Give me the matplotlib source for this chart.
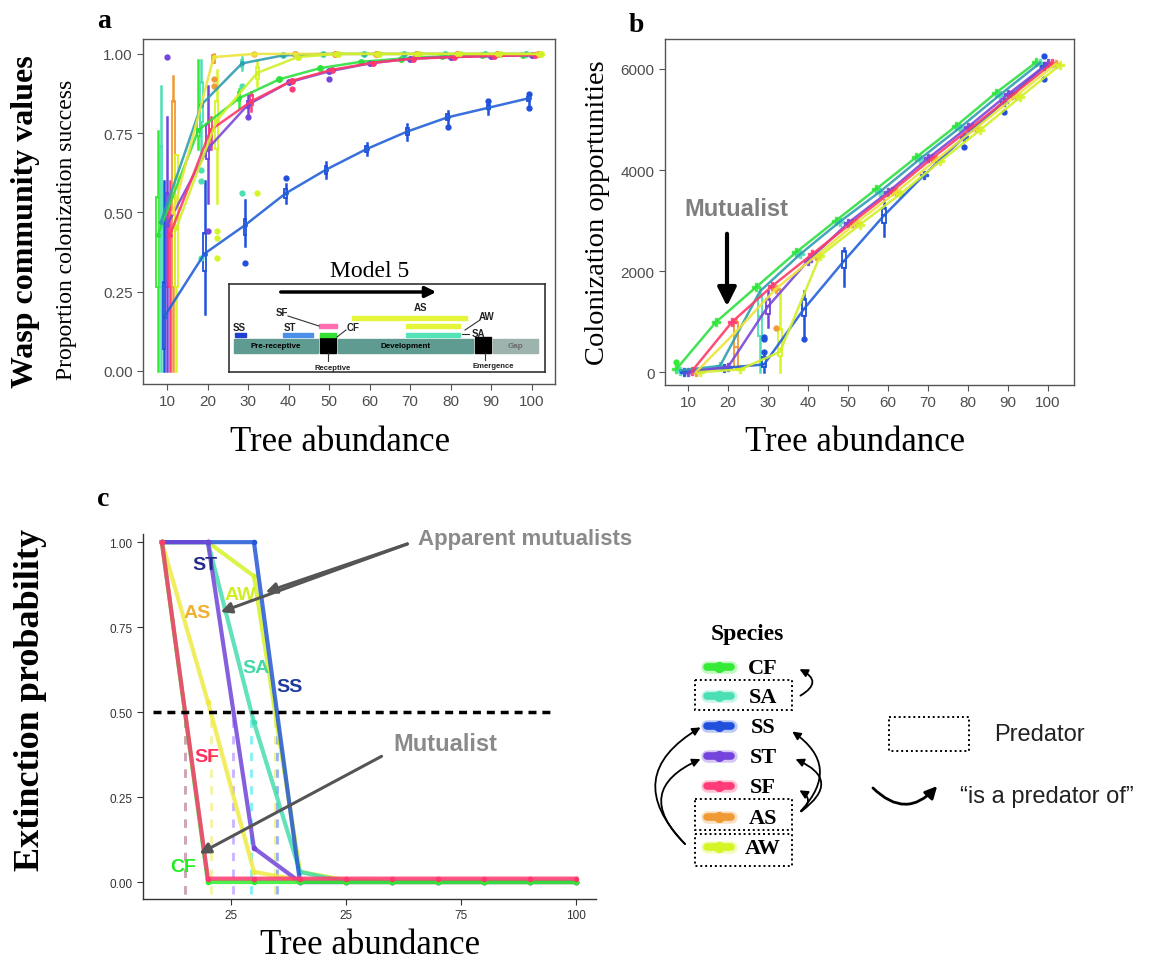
import matplotlib.pyplot as plt
from matplotlib.patches import Rectangle, FancyArrowPatch
import numpy as np

plt.rcParams['font.family'] = ['Liberation Sans', 'DejaVu Sans']
SERIF = 'Liberation Serif'

# ---------------- data ----------------
species = ['CF', 'SA', 'SS', 'ST', 'SF', 'AS', 'AW']
tree_abundance = [10, 20, 30, 40, 50, 60, 70, 80, 90, 100]

box_colors = ['#35EB35', '#4BE0B4', '#2050DC', '#7444DC', '#FF3B78', '#F09A35', '#D6F525']
line_colors = ['#2EE040', '#2E9EB2', '#2460D8', '#7A48DA', '#FF3A6A', '#EDE43A', '#D2F028']

# panel a: proportion colonization success (line values)
a_cf = [0.43, 0.76, 0.86, 0.92, 0.955, 0.975, 0.985, 0.992, 0.995, 0.997]
a_sa = [0.47, 0.84, 0.97, 0.995, 1.0, 1.0, 1.0, 1.0, 1.0, 1.0]
a_ss = [0.17, 0.37, 0.46, 0.56, 0.635, 0.70, 0.755, 0.80, 0.83, 0.86]
a_st = [0.46, 0.70, 0.84, 0.91, 0.945, 0.97, 0.985, 0.99, 0.993, 0.996]
a_sf = [0.43, 0.76, 0.85, 0.915, 0.95, 0.972, 0.985, 0.99, 0.994, 0.996]
a_as = [0.50, 0.99, 1.0, 1.0, 1.0, 1.0, 1.0, 1.0, 1.0, 1.0]
a_aw = [0.45, 0.79, 0.94, 0.99, 1.0, 1.0, 1.0, 1.0, 1.0, 1.0]

# panel a boxes (lo, q1, med, q3, hi) at 10, 20, 30 ...
a_box_cf = [(0.0, 0.265, 0.43, 0.55, 0.757), (0.70, 0.74, 0.76, 0.80, 0.98), (0.83, 0.85, 0.86, 0.88, 0.89)]
a_box_sa = [(0.0, 0.265, 0.47, 0.71, 0.90), (0.67, 0.785, 0.84, 0.91, 0.98), (0.95, 0.96, 0.97, 0.98, 0.99)]
a_box_ss = [(0.0, 0.07, 0.17, 0.28, 0.60), (0.18, 0.316, 0.37, 0.435, 0.60), (0.395, 0.43, 0.46, 0.48, 0.54),
            (0.53, 0.545, 0.56, 0.575, 0.59), (0.61, 0.62, 0.635, 0.645, 0.66), (0.68, 0.69, 0.70, 0.71, 0.72),
            (0.73, 0.745, 0.755, 0.765, 0.78), (0.78, 0.79, 0.80, 0.81, 0.82), (0.81, 0.825, 0.83, 0.84, 0.85),
            (0.84, 0.85, 0.86, 0.865, 0.875)]
a_box_st = [(0.0, 0.265, 0.46, 0.56, 0.80), (0.53, 0.67, 0.70, 0.78, 0.90), (0.81, 0.83, 0.84, 0.85, 0.87)]
a_box_sf = [(0.0, 0.265, 0.43, 0.51, 0.60), (0.70, 0.74, 0.76, 0.79, 0.80), (0.82, 0.84, 0.85, 0.87, 0.88)]
a_box_as = [(0.0, 0.265, 0.55, 0.85, 0.93), (0.97, 0.97, 0.99, 0.995, 1.0), (1.0, 1.0, 1.0, 1.0, 1.0)]
a_box_aw = [(0.0, 0.265, 0.45, 0.68, 0.68), (0.53, 0.70, 0.79, 0.85, 0.95), (0.90, 0.92, 0.94, 0.96, 0.98)]

a_outliers = [('ST', 10, 0.99), ('SA', 20, 0.635), ('SA', 20, 0.60), ('SA', 20, 0.355), ('ST', 20, 0.44),
              ('AS', 20, 0.92), ('AS', 20, 0.90), ('AW', 20, 0.44), ('AW', 20, 0.42), ('AW', 20, 0.355),
              ('SA', 30, 0.90), ('SA', 30, 0.56), ('AW', 30, 0.56), ('SS', 30, 0.34), ('ST', 30, 0.80),
              ('AS', 30, 1.0), ('SS', 40, 0.61), ('SF', 40, 0.89), ('ST', 50, 0.92), ('SS', 80, 0.77),
              ('SS', 90, 0.85), ('SS', 100, 0.83), ('SS', 100, 0.875)]

# panel b: colonization opportunities
b_cf = [50, 990, 1680, 2370, 3000, 3620, 4250, 4870, 5530, 6130]
b_sa = [30, 120, 1600, 2330, 2980, 3570, 4220, 4840, 5490, 6120]
b_ss = [0, 80, 150, 1250, 2200, 3100, 3900, 4650, 5350, 6050]
b_st = [0, 100, 1300, 2200, 2950, 3560, 4230, 4850, 5500, 6110]
b_sf = [20, 990, 1700, 2330, 2960, 3580, 4230, 4850, 5480, 6110]
b_as = [0, 800, 1650, 2300, 2950, 3560, 4200, 4830, 5470, 6100]
b_aw = [0, 50, 400, 2300, 2920, 3520, 4170, 4790, 5440, 6080]

b_boxes = {('SA', 30): (0, 710, 1100, 1500, 1650), ('ST', 30): (900, 1150, 1300, 1450, 1600),
           ('SS', 30): (0, 100, 150, 300, 400), ('SS', 40): (650, 1100, 1250, 1450, 1600),
           ('SS', 50): (1700, 2050, 2200, 2400, 2450), ('SS', 60): (2700, 2950, 3100, 3250, 3400),
           ('AS', 20): (50, 100, 500, 1000, 1050), ('AW', 30): (0, 320, 450, 850, 1600)}
b_outliers = [('CF', 10, 200), ('SS', 30, 650), ('SS', 30, 700), ('SS', 30, 400), ('AS', 30, 870),
              ('SS', 40, 650), ('SS', 80, 4450), ('SS', 90, 5150), ('SS', 100, 5800), ('SS', 100, 6250)]

# panel c: extinction probability
c_cf = [1, 0, 0, 0, 0, 0, 0, 0, 0, 0]
c_sa = [1, 1, 0.47, 0.03, 0, 0, 0, 0, 0, 0]
c_ss = [1, 1, 1, 0, 0, 0, 0, 0, 0, 0]
c_st = [1, 1, 0.10, 0, 0, 0, 0, 0, 0, 0]
c_sf = [1, 0.01, 0.01, 0.01, 0.01, 0.01, 0.01, 0.01, 0.01, 0.01]
c_as = [1, 0.53, 0.03, 0.005, 0, 0, 0, 0, 0, 0]
c_aw = [1, 1, 0.90, 0.03, 0.005, 0, 0, 0, 0, 0]
c_xticklabels = ['25', '25', '75', '100']

c_line_colors = {'CF': '#2EEE2E', 'SA': '#45DDB0', 'SS': '#2458D8', 'ST': '#7044D8',
                 'SF': '#FF3A70', 'AS': '#EEEA44', 'AW': '#D6F22A'}
c_dash_colors = {'CF': '#33DD55', 'SF': '#FF88CC', 'AS': '#F2EE88', 'ST': '#BB99FF',
                 'SA': '#55EEEE', 'AW': '#EEEE66', 'SS': '#7799FF'}
c_label_colors = {'ST': '#242B8C', 'AW': '#D2EE22', 'AS': '#F0B030', 'SA': '#45D8A8',
                  'SS': '#1E3A9A', 'SF': '#FF2F5E', 'CF': '#22EE22'}
c_label_pos = {'ST': (19.3, 0.935), 'AW': (27.0, 0.847), 'AS': (17.6, 0.794), 'SA': (30.4, 0.632),
               'SS': (37.8, 0.576), 'SF': (19.8, 0.37), 'CF': (14.6, 0.047)}

a_lines = dict(zip(species, [a_cf, a_sa, a_ss, a_st, a_sf, a_as, a_aw]))
a_boxes = dict(zip(species, [a_box_cf, a_box_sa, a_box_ss, a_box_st, a_box_sf, a_box_as, a_box_aw]))
b_lines = dict(zip(species, [b_cf, b_sa, b_ss, b_st, b_sf, b_as, b_aw]))
c_lines = dict(zip(species, [c_cf, c_sa, c_ss, c_st, c_sf, c_as, c_aw]))

dodge_a = [-2.25, -1.5, -0.75, 0, 0.75, 1.5, 2.25]
dodge_b = [-3, -2, -1, 0, 1, 2, 3]

W, H = 1154, 962
fig = plt.figure(figsize=(W / 100, H / 100), dpi=100)


def px_axes(x0, y0, x1, y1):
    # axes from pixel box (top-left origin)
    return fig.add_axes([x0 / W, 1 - y1 / H, (x1 - x0) / W, (y1 - y0) / H])


def draw_box(ax, x, stats, color, width, lw=1.3):
    lo, q1, med, q3, hi = stats
    ax.plot([x, x], [lo, q1], color=color, lw=lw + 0.5, zorder=2)
    ax.plot([x, x], [q3, hi], color=color, lw=lw + 0.5, zorder=2)
    ax.add_patch(Rectangle((x - width / 2, q1), width, q3 - q1, fill=False,
                           edgecolor=color, lw=lw, zorder=2))
    ax.plot([x - width / 2, x + width / 2], [med, med], color=color, lw=lw, zorder=2)


def style_box_axes(ax):
    for s in ax.spines.values():
        s.set_color('#555555')
        s.set_linewidth(1.0)
    ax.tick_params(direction='out', length=4, color='#555555', labelsize=11, labelcolor='#4D4D4D')


# ---------------- panel a ----------------
axa = px_axes(143, 40, 555, 385)
for i, sp in enumerate(species):
    xs = np.array(tree_abundance) + dodge_a[i]
    for j, st in enumerate(a_boxes[sp]):
        draw_box(axa, xs[j], st, box_colors[i], 0.7)
    n = len(a_boxes[sp])
    axa.plot(xs[n:], a_lines[sp][n:], 'o', color=box_colors[i], ms=4, zorder=3)
    axa.plot(xs, a_lines[sp], color=line_colors[i], lw=1.8, alpha=0.9, zorder=4)
    axa.plot(xs, a_lines[sp], 'o', color=line_colors[i], ms=2.5, zorder=4)
for sp, x, y in a_outliers:
    i = species.index(sp)
    axa.plot(x + dodge_a[i], y, 'o', color=box_colors[i], ms=3.5, zorder=3)
axa.set_xlim(4.07, 105.75)
axa.set_ylim(-0.041, 1.047)
axa.set_xticks(tree_abundance)
axa.set_yticks([0, 0.25, 0.5, 0.75, 1.0])
axa.set_yticklabels(['0.00', '0.25', '0.50', '0.75', '1.00'])
style_box_axes(axa)

# inset schematic (local pixel units)
ins = px_axes(229, 285, 545, 373)
ins.set_xlim(0, 316)
ins.set_ylim(88, 0)
ins.set_xticks([])
ins.set_yticks([])
for s in ins.spines.values():
    s.set_color('#333333')
    s.set_linewidth(1.2)
ins.annotate('', xy=(210, 8), xytext=(49, 8),
             arrowprops=dict(arrowstyle='-|>', lw=2.5, color='black', mutation_scale=16))
stages = [(5, 89, '#5F9B90', 'Pre-receptive', 'black'), (109, 244, '#5F9B90', 'Development', 'black'),
          (264, 309, '#9DB3AE', 'Gap', '#6A6A6A')]
for x0, x1, col, lab, tc in stages:
    ins.add_patch(Rectangle((x0, 55), x1 - x0, 14, color=col))
    ins.text((x0 + x1) / 2, 62, lab, ha='center', va='center', fontsize=5.8, weight='bold', color=tc)
for x0, x1 in [(91, 107), (246, 262)]:
    ins.add_patch(Rectangle((x0, 53), x1 - x0, 16, color='black'))
bars = [(123, 238, 34, '#E4F53A'), (177, 231, 42, '#E4F53A'), (177, 231, 51, '#55E3B8'),
        (90, 108, 42, '#FF6FB0'), (91, 107, 51, '#35E035'), (6, 17, 51, '#2040D0'), (54, 84, 51, '#4A90E8')]
for x0, x1, y, col in bars:
    ins.add_patch(Rectangle((x0, y - 2), x1 - x0, 4, color=col))
for lab, x, y in [('AS', 191, 23), ('AW', 258, 32), ('SA', 249, 49), ('SF', 53, 28),
                  ('CF', 124, 43), ('SS', 10, 43), ('ST', 61, 43)]:
    ins.text(x, y, lab, ha='center', va='center', fontsize=7, weight='bold', color='#222222')
for (x0, y0), (x1, y1) in [((59, 32), (90, 42)), ((236, 46), (251, 36)), ((233, 50), (240, 50)),
                           ((108, 53), (117, 46)), ((99, 69), (99, 77)), ((256, 69), (256, 76))]:
    ins.plot([x0, x1], [y0, y1], color='#333333', lw=0.8)
ins.text(104, 83, 'Receptive', ha='center', va='center', fontsize=5.6, weight='bold', color='#222222')
ins.text(264, 82, 'Emergence', ha='center', va='center', fontsize=5.6, weight='bold', color='#222222')

# ---------------- panel b ----------------
axb = px_axes(665, 40, 1074, 386)
for i, sp in enumerate(species):
    xs = np.array(tree_abundance) + dodge_b[i]
    axb.plot(xs, b_lines[sp], color=line_colors[i], lw=1.8, alpha=0.9, zorder=4)
    for j, x in enumerate(tree_abundance):
        if (sp, x) in b_boxes:
            draw_box(axb, xs[j], b_boxes[(sp, x)], box_colors[i], 0.9)
        else:
            axb.plot(xs[j], b_lines[sp][j], 'P', color=box_colors[i], ms=6, alpha=0.85, zorder=3)
for sp, x, y in b_outliers:
    i = species.index(sp)
    axb.plot(x + dodge_b[i], y, 'o', color=box_colors[i], ms=3.5, zorder=3)
axb.set_xlim(4.25, 106.5)
axb.set_ylim(-257, 6594)
axb.set_xticks(tree_abundance)
axb.set_yticks([0, 2000, 4000, 6000])
style_box_axes(axb)

# ---------------- panel c ----------------
axc = px_axes(143, 535, 596, 900)
for sp in ['AW', 'SA', 'SS', 'AS', 'ST', 'CF', 'SF']:
    ys = c_lines[sp]
    axc.plot(tree_abundance, ys, color=c_line_colors[sp], lw=3, alpha=0.85, zorder=3)
    axc.plot(tree_abundance, ys, 'o', color=c_line_colors[sp], ms=3, zorder=3)
    # where the curve crosses 0.5
    for k in range(len(ys) - 1):
        if ys[k] >= 0.5 > ys[k + 1]:
            x0 = tree_abundance[k] + (ys[k] - 0.5) / (ys[k] - ys[k + 1]) * 10
            axc.vlines(x0, -0.035, 0.5, color=c_dash_colors[sp], ls=(0, (3, 3)), lw=2, alpha=0.75, zorder=2)
            break
axc.hlines(0.5, 8, 95.5, color='black', ls=(0, (2.3, 1.7)), lw=2.5, zorder=5)
for sp, (x, y) in c_label_pos.items():
    axc.text(x, y, sp, ha='center', va='center', fontsize=14, weight='bold',
             color=c_label_colors[sp], zorder=6)
axc.set_xlim(5.9, 104.3)
axc.set_ylim(-0.05, 1.024)
axc.set_xticks([25, 50, 75, 100])
axc.set_xticklabels(c_xticklabels)
axc.set_yticks([0, 0.25, 0.5, 0.75, 1.0])
axc.set_yticklabels(['0.00', '0.25', '0.50', '0.75', '1.00'])
for s in ['top', 'right']:
    axc.spines[s].set_visible(False)
for s in ['left', 'bottom']:
    axc.spines[s].set_color('#333333')
    axc.spines[s].set_linewidth(1.0)
axc.tick_params(direction='out', length=4, color='#333333', labelsize=8.5, labelcolor='#333333')

# ---------------- overlay: labels, legend, arrows ----------------
ov = fig.add_axes([0, 0, 1, 1])
ov.set_xlim(0, W)
ov.set_ylim(H, 0)
ov.axis('off')

ov.text(104, 21, 'a', fontsize=20, weight='bold', family=SERIF, ha='center', va='center')
ov.text(636, 25, 'b', fontsize=20, weight='bold', family=SERIF, ha='center', va='center')
ov.text(103, 500, 'c', fontsize=20, weight='bold', family=SERIF, ha='center', va='center')

ov.text(26, 222, 'Wasp community values', rotation=90, fontsize=23, weight='bold',
        family=SERIF, ha='center', va='center')
ov.text(67, 230, 'Proportion colonization success', rotation=90, fontsize=17,
        family=SERIF, ha='center', va='center')
ov.text(597, 213, 'Colonization opportunities', rotation=90, fontsize=20.5,
        family=SERIF, ha='center', va='center')
ov.text(31, 700, 'Extinction probability', rotation=90, fontsize=26, weight='bold',
        family=SERIF, ha='center', va='center')
for x, y in [(340, 443), (855, 443), (370, 946)]:
    ov.text(x, y, 'Tree abundance', fontsize=25, family=SERIF, ha='center', va='center')

ov.text(370, 272, 'Model 5', fontsize=17, family=SERIF, ha='center', va='center')

# panel b mutualist arrow
ov.text(736, 210, 'Mutualist', fontsize=17, weight='bold', color='#7F7F7F', ha='center', va='center')
ov.annotate('', xy=(727, 310), xytext=(727, 232),
            arrowprops=dict(arrowstyle='-|>', lw=3, color='black', mutation_scale=28))

# panel c annotations
ov.text(418, 540, 'Apparent mutualists', fontsize=16, weight='bold', color='#8A8A8A', ha='left', va='center')
for tip in [(263, 594), (218, 614)]:
    ov.annotate('', xy=tip, xytext=(410, 544),
                arrowprops=dict(arrowstyle='-|>', lw=2.2, color='#555555', mutation_scale=16))
ov.text(445, 745, 'Mutualist', fontsize=17, weight='bold', color='#8A8A8A', ha='center', va='center')
ov.annotate('', xy=(197, 856), xytext=(384, 756),
            arrowprops=dict(arrowstyle='-|>', lw=2.2, color='#555555', mutation_scale=16))

# species legend
ov.text(747, 635, 'Species', fontsize=17, weight='bold', family=SERIF, ha='center', va='center')
leg_y = [668, 697, 727, 757, 787, 818, 848]
for i, sp in enumerate(species):
    y = leg_y[i]
    ov.plot([707, 731], [y, y], color=box_colors[i], lw=9, alpha=0.3, solid_capstyle='round')
    ov.plot([707, 731], [y, y], color=box_colors[i], lw=5.5, solid_capstyle='round')
    ov.plot(719, y, 'o', color=box_colors[i], ms=7)
    ov.text(763, y + 1, sp, fontsize=16, weight='bold', family=SERIF, ha='center', va='center')
for y0, y1 in [(681, 711), (800, 831), (835, 867)]:
    ov.add_patch(Rectangle((695, y0), 97, y1 - y0, fill=False, ls=(0, (1, 1.5)), lw=1.4, ec='black'))

arcs = [((798, 698), (797, 669), 1.0), ((799, 814), (790, 731), 0.6), ((799, 814), (793, 759), 0.9),
        ((799, 814), (797, 790), 0.8), ((687, 847), (703, 727), -0.65), ((687, 847), (703, 759), -0.75),
        ((871, 787), (939, 785), 0.55)]
for a, b, rad in arcs:
    lw = 2.0 if a[0] == 871 else 1.3
    ov.add_patch(FancyArrowPatch(a, b, connectionstyle='arc3,rad=%s' % rad, arrowstyle='-|>',
                                 mutation_scale=12 if lw < 2 else 18, lw=lw, color='black'))

ov.add_patch(Rectangle((889, 718), 80, 34, fill=False, ls=(0, (1, 1.5)), lw=1.4, ec='black'))
ov.text(994, 735, 'Predator', fontsize=17, ha='left', va='center', color='#222222')
ov.text(960, 797, '\u201cis a predator of\u201d', fontsize=17, ha='left', va='center', color='#222222')

fig.savefig('out.png', dpi=100)
